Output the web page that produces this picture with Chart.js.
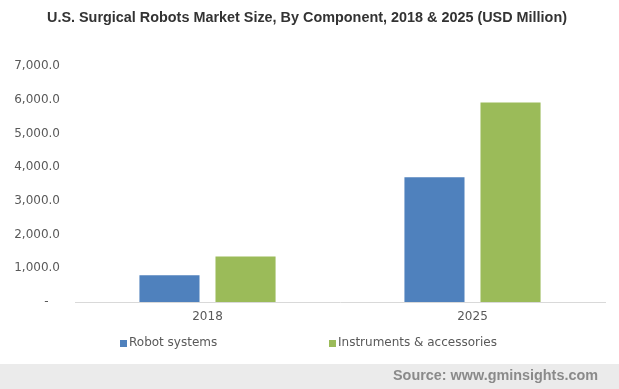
<!DOCTYPE html>
<html>
<head>
<meta charset="utf-8">
<script src="https://cdn.jsdelivr.net/npm/chart.js@4"></script>
<style>
  body { margin: 0; background: #fff; }
  #wrap { width: 619px; height: 389px; position: relative; }
</style>
</head>
<body>
<div id="wrap"><canvas id="chart" width="619" height="389"></canvas></div>
<script>
// data
const years = ['2018', '2025'];
const robotSystems = [790, 3700];
const instruments = [1350, 5920];
const yTicks = [0, 1000, 2000, 3000, 4000, 5000, 6000, 7000];

const titleText = 'U.S. Surgical Robots Market Size, By Component, 2018 & 2025 (USD Million)';
const sourceText = 'Source: www.gminsights.com';

// title, legend and source strip drawn straight onto the canvas
const decorations = {
  id: 'decorations',
  afterDraw(chart) {
    const ctx = chart.ctx;
    ctx.save();

    // title
    ctx.font = 'bold 14px "Liberation Sans", Arial, sans-serif';
    ctx.fillStyle = '#333333';
    ctx.textBaseline = 'alphabetic';
    ctx.textAlign = 'left';
    let w = ctx.measureText(titleText).width;
    ctx.save();
    ctx.translate(47, 22);
    ctx.scale(520 / w, 1);
    ctx.fillText(titleText, 0, 0);
    ctx.restore();

    // legend
    ctx.font = '12px "DejaVu Sans", Verdana, sans-serif';
    ctx.textBaseline = 'middle';
    const legendX = [120, 329];
    chart.data.datasets.forEach((ds, i) => {
      ctx.fillStyle = ds.backgroundColor;
      ctx.fillRect(legendX[i], 340, 7, 7);
      ctx.fillStyle = '#595959';
      ctx.fillText(ds.label, legendX[i] + 9, 343);
    });

    // source strip
    ctx.fillStyle = '#ebebeb';
    ctx.fillRect(0, 364, 619, 25);
    ctx.font = 'bold 14px "Liberation Sans", Arial, sans-serif';
    ctx.fillStyle = '#8a8a8a';
    ctx.textAlign = 'left';
    w = ctx.measureText(sourceText).width;
    ctx.save();
    ctx.translate(393, 376);
    ctx.scale(205 / w, 1);
    ctx.fillText(sourceText, 0, 0);
    ctx.restore();

    ctx.restore();
  }
};

new Chart(document.getElementById('chart'), {
  type: 'bar',
  data: {
    labels: years,
    datasets: [
      {
        label: 'Robot systems',
        data: robotSystems,
        backgroundColor: '#4f81bd',
        categoryPercentage: 0.574,
        barPercentage: 0.79,
      },
      {
        label: 'Instruments & accessories',
        data: instruments,
        backgroundColor: '#9bbb59',
        categoryPercentage: 0.574,
        barPercentage: 0.79,
      },
    ],
  },
  options: {
    responsive: false,
    animation: false,
    layout: { padding: { left: 0, right: 14, top: 66, bottom: 0 } },
    plugins: {
      legend: { display: false },
      title: { display: false },
      tooltip: { enabled: false },
    },
    scales: {
      x: {
        grid: { display: false, drawTicks: false },
        border: { display: true, color: '#d9d9d9', width: 1 },
        ticks: {
          color: '#595959',
          font: { family: '"DejaVu Sans", Verdana, sans-serif', size: 12 },
          padding: 8,
        },
        afterFit(scale) { scale.height = 87; },
      },
      y: {
        min: 0,
        max: 7000,
        afterBuildTicks(scale) { scale.ticks = yTicks.map(v => ({ value: v })); },
        grid: { display: false, drawTicks: false },
        border: { display: false },
        ticks: {
          color: '#595959',
          font: { family: '"DejaVu Sans", Verdana, sans-serif', size: 12 },
          padding: 15,
          callback: v => v === 0 ? '-   ' : v.toLocaleString('en-US', { minimumFractionDigits: 1 }),
        },
        afterFit(scale) { scale.width = 75; },
      },
    },
  },
  plugins: [decorations],
});
</script>
</body>
</html>
